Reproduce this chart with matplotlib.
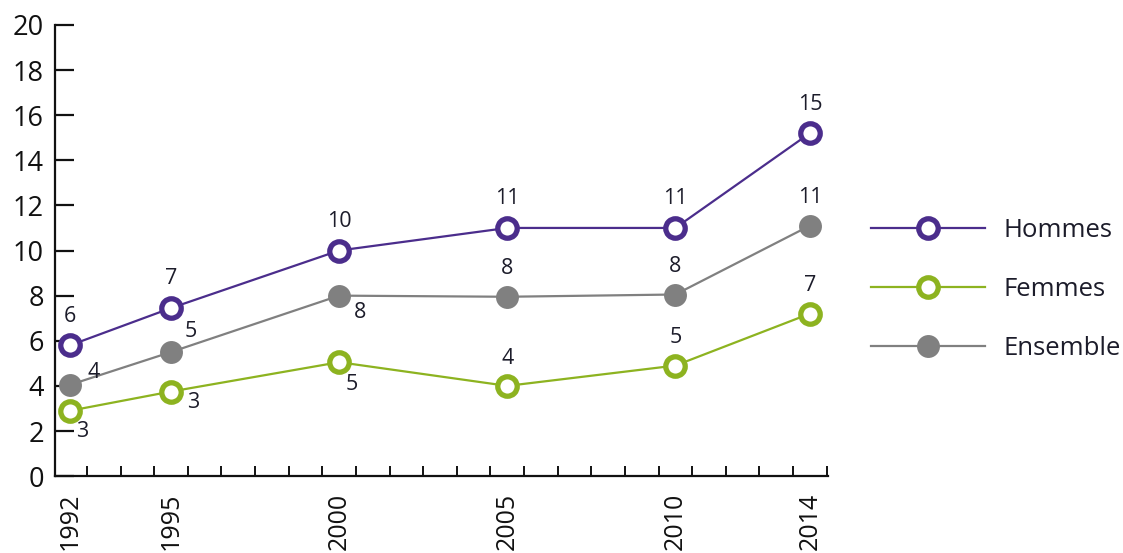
import matplotlib
matplotlib.use("Agg")
import matplotlib.pyplot as plt
from matplotlib.ticker import FixedLocator

plt.rcParams['font.family'] = ['Open Sans', 'DejaVu Sans']

# data
years = [1992, 1995, 2000, 2005, 2010, 2014]
hommes = [5.8, 7.45, 10.0, 11.0, 11.0, 15.2]
femmes = [2.9, 3.75, 5.05, 4.0, 4.9, 7.2]
ensemble = [4.05, 5.5, 8.0, 7.95, 8.05, 11.1]

hommes_lbl = ["6", "7", "10", "11", "11", "15"]
femmes_lbl = ["3", "3", "5", "4", "5", "7"]
ensemble_lbl = ["4", "5", "8", "8", "8", "11"]

PURPLE = "#4b2d8c"
GREEN = "#8db320"
GREY = "#808080"
TXT = "#1c1c2a"

fig = plt.figure(figsize=(11.23, 5.53), dpi=100)
ax = fig.add_axes([0.049, 0.139, 0.688, 0.816])

ax.plot(years, hommes, color=PURPLE, lw=1.6, marker="o", ms=14,
        mfc="white", mec=PURPLE, mew=3.8, label="Hommes", zorder=3)
ax.plot(years, femmes, color=GREEN, lw=1.6, marker="o", ms=14,
        mfc="white", mec=GREEN, mew=3.8, label="Femmes", zorder=3)
ax.plot(years, ensemble, color=GREY, lw=1.6, marker="o", ms=16.5,
        mfc=GREY, mec=GREY, mew=0, label="Ensemble", zorder=3)

# value labels (offsets in points)
def put_labels(xs, ys, labels, offsets):
    for x, y, s, off in zip(xs, ys, labels, offsets):
        ax.annotate(s, (x, y), xytext=off, textcoords="offset points",
                    ha="center", va="center", fontsize=15.5, color=TXT)

put_labels(years, hommes, hommes_lbl, [(0, 21)] * 6)
put_labels(years, femmes, femmes_lbl,
           [(9, -15), (16, -8), (9, -16), (0, 20), (0, 20), (0, 20)])
put_labels(years, ensemble, ensemble_lbl,
           [(17, 9), (14, 15), (15, -12), (0, 20), (0, 20), (0, 20)])

ax.set_xlim(1991.55, 2014.53)
ax.set_ylim(0, 20)
ax.set_yticks(range(0, 21, 2))
ax.set_xticks(years)
ax.set_xticklabels([str(y) for y in years], rotation=90, va="top")
ax.xaxis.set_minor_locator(FixedLocator([y + 0.5 for y in range(1992, 2015)]))

for side in ("top", "right"):
    ax.spines[side].set_visible(False)
for side in ("left", "bottom"):
    ax.spines[side].set_linewidth(1.6)
    ax.spines[side].set_color("#111111")

ax.tick_params(axis="y", direction="in", length=14, width=1.6,
               labelsize=19.5, pad=8, colors="#111111")
ax.tick_params(axis="x", which="major", length=0, labelsize=18, pad=12,
               colors="#111111")
ax.tick_params(axis="x", which="minor", direction="in", length=7.5, width=1.4,
               colors="#111111")

fig.legend(loc="center left", bbox_to_anchor=(0.776, 0.476), frameon=False,
           fontsize=18.5, handlelength=4.4, handletextpad=0.75,
           labelspacing=1.32, borderpad=0, borderaxespad=0,
           labelcolor=TXT)

fig.savefig("out.png", dpi=100)
